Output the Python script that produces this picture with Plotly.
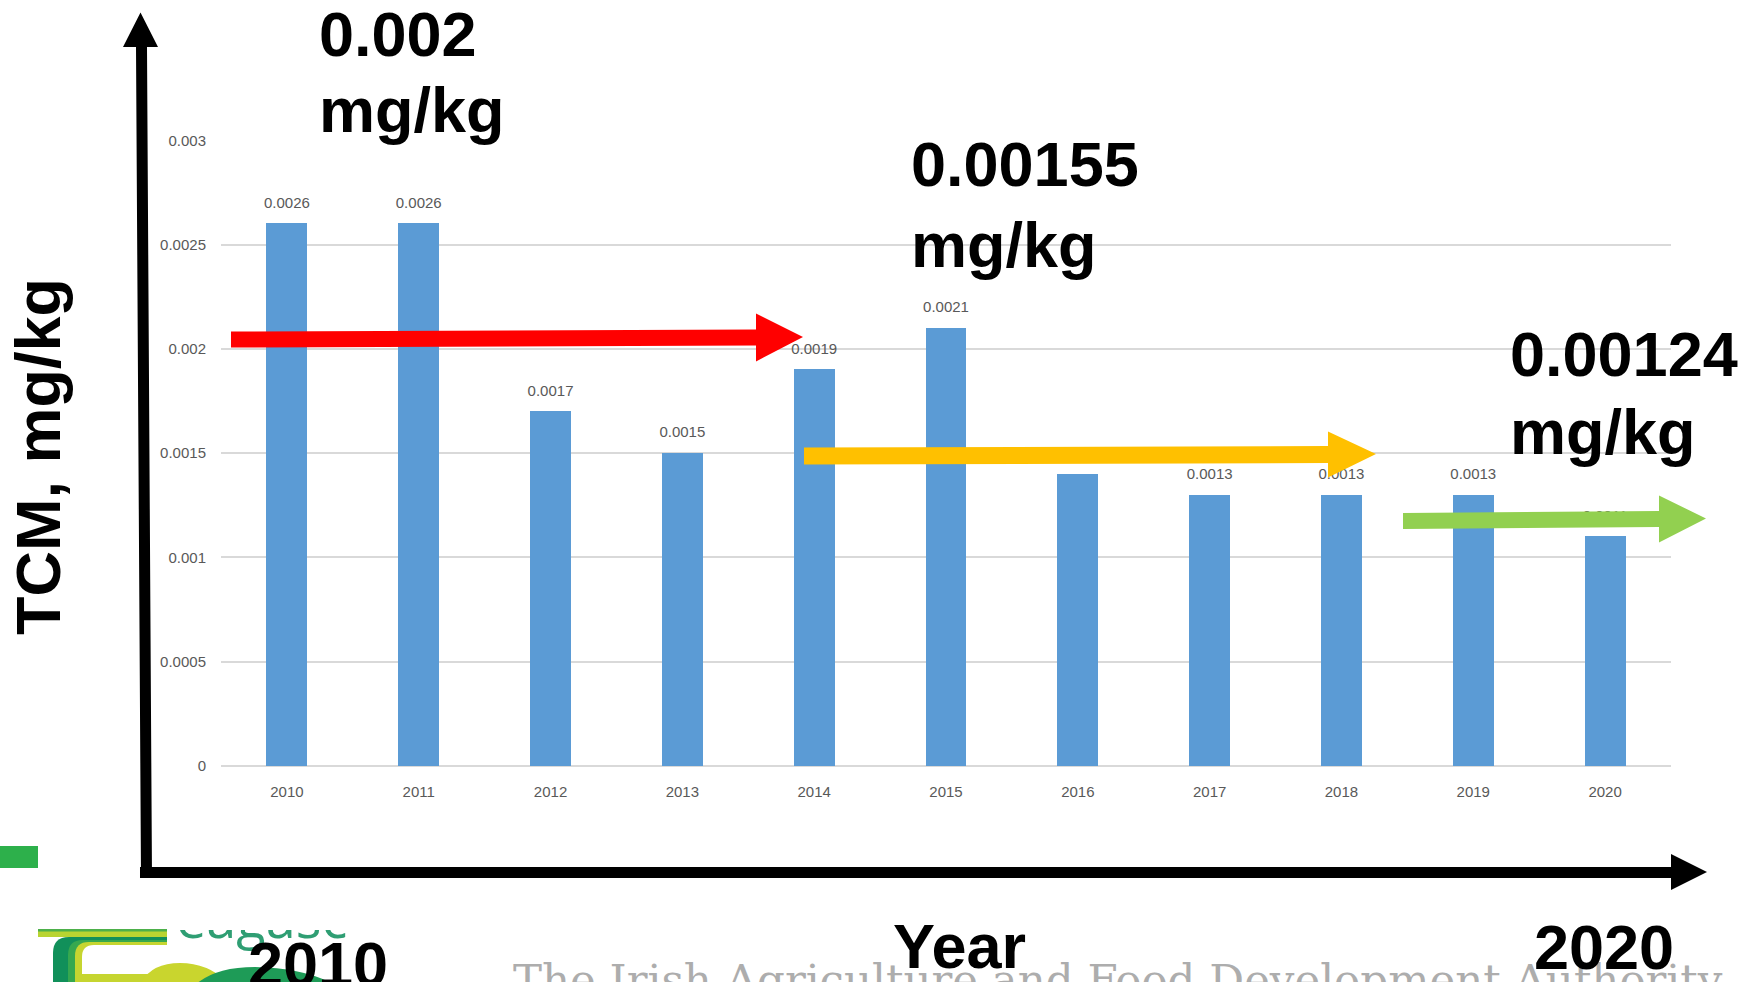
import plotly.graph_objects as go

# ---- data -------------------------------------------------------------
years = [2010, 2011, 2012, 2013, 2014, 2015, 2016, 2017, 2018, 2019, 2020]
tcm_mg_per_kg = [0.0026, 0.0026, 0.0017, 0.0015, 0.0019, 0.0021,
                 0.0014, 0.0013, 0.0013, 0.0013, 0.0011]
y_tick_values = [0, 0.0005, 0.001, 0.0015, 0.002, 0.0025, 0.003]
y_tick_labels = ["0", "0.0005", "0.001", "0.0015", "0.002", "0.0025", "0.003"]
period_levels = ["0.002", "0.00155", "0.00124"]
unit_label = "mg/kg"
axis_title_y = "TCM, mg/kg"
axis_title_x = "Year"
first_year_label, last_year_label = "2010", "2020"
footer_text = "The Irish Agriculture and Food Development Authority"
logo_word = "eagasc"

# ---- canvas helpers (pixel -> paper) ---------------------------------
W, H = 1761, 982


def fx(x):
    return x / W


def fy(y):
    return 1 - y / H


def path(cmds):
    """cmds: list of (letter, [(x, y), ...]) in pixels -> SVG path in paper units."""
    out = []
    for letter, pts in cmds:
        coords = " ".join(f"{fx(x):.6f},{fy(y):.6f}" for x, y in pts)
        out.append(f"{letter} {coords}")
    return " ".join(out) + " Z"


def polygon(points):
    return path([("M", [points[0]])] + [("L", [p]) for p in points[1:]])


def arrow(xs, ys, xb, yb, xt, yt, half_shaft, half_head):
    return polygon([(xs, ys - half_shaft), (xb, yb - half_shaft), (xb, yb - half_head),
                    (xt, yt), (xb, yb + half_head), (xb, yb + half_shaft),
                    (xs, ys + half_shaft)])


BOLD = "Liberation Sans, Arial, sans-serif"
SMALL = "Liberation Sans, Arial, sans-serif"
TICK_COLOR = "#595959"
GRID_COLOR = "#D9D9D9"
BAR_COLOR = "#5B9BD5"

fig = go.Figure()

# columns
fig.add_trace(go.Bar(
    x=years, y=tcm_mg_per_kg, width=0.31,
    marker=dict(color=BAR_COLOR, line=dict(width=0)),
    hoverinfo="x+y", showlegend=False,
))

# value labels above each column
fig.add_trace(go.Scatter(
    x=years, y=tcm_mg_per_kg, mode="markers+text",
    text=[f"{v:g}" for v in tcm_mg_per_kg],
    textposition="top center",
    textfont=dict(family=SMALL, size=15, color=TICK_COLOR),
    marker=dict(size=18, color="rgba(0,0,0,0)"),
    cliponaxis=False, showlegend=False, hoverinfo="skip",
))

# logo lettering, clipped by its own small subplot
fig.add_trace(go.Scatter(
    x=[176], y=[924], mode="text", text=[logo_word],
    textposition="middle right",
    textfont=dict(family="Open Sans, sans-serif", size=54, color="#2f9e73"),
    xaxis="x2", yaxis="y2", cliponaxis=True, showlegend=False, hoverinfo="skip",
))

shapes = []

# coloured trend arrows
for d, col in [
    (arrow(231, 339.5, 756, 337.5, 803, 337, 8, 24), "#FF0000"),
    (arrow(804, 456, 1328, 454.5, 1376, 454, 8.5, 23), "#FFC000"),
    (arrow(1403, 521, 1659, 519, 1706, 518.5, 8, 23.5), "#92D050"),
]:
    shapes.append(dict(type="path", path=d, xref="paper", yref="paper",
                       fillcolor=col, line=dict(width=0), layer="above"))

# bold black axis arrows
shapes.append(dict(type="path", xref="paper", yref="paper", layer="above",
                   fillcolor="black", line=dict(width=0),
                   path=polygon([(123, 47), (140.5, 12.5), (158, 47), (147, 47),
                                 (152, 878), (141, 878), (136, 47)])))
shapes.append(dict(type="path", xref="paper", yref="paper", layer="above",
                   fillcolor="black", line=dict(width=0),
                   path=polygon([(140, 867), (1671, 867), (1671, 854), (1707, 872),
                                 (1671, 890), (1671, 878), (140, 878)])))

# green bar on the left edge
shapes.append(dict(type="path", xref="paper", yref="paper", layer="above",
                   fillcolor="#2DB04B", line=dict(width=0),
                   path=polygon([(0, 846), (38, 846), (38, 868), (0, 868)])))

# white band hiding the upper half of the logo lettering
shapes.append(dict(type="path", xref="paper", yref="paper", layer="above",
                   fillcolor="white", line=dict(width=0),
                   path=polygon([(160, 884), (380, 884), (380, 930), (160, 930)])))

# logo artwork
logo_parts = [
    ("#11905A", path([("M", [(53, 985)]), ("L", [(53, 953)]), ("Q", [(53, 937), (69, 937)]),
                      ("L", [(167, 937)]), ("L", [(167, 985)])])),
    ("#36A84F", path([("M", [(68, 985)]), ("L", [(68, 955)]), ("Q", [(68, 940), (83, 940)]),
                      ("L", [(167, 940)]), ("L", [(167, 985)])])),
    ("#C6D530", path([("M", [(75, 985)]), ("L", [(75, 956)]), ("Q", [(75, 942), (89, 942)]),
                      ("L", [(167, 942)]), ("L", [(167, 985)])])),
    ("#FFFFFF", path([("M", [(82, 974)]), ("L", [(82, 957)]), ("Q", [(82, 945), (94, 945)]),
                      ("L", [(200, 945)]), ("L", [(200, 974)])])),
    ("#C6D530", polygon([(82, 974), (200, 974), (200, 985), (82, 985)])),
    ("#C9D52E", path([("M", [(140, 985)]), ("Q", [(150, 963), (180, 963)]),
                      ("Q", [(210, 963), (230, 985)])])),
    ("#1E9B57", path([("M", [(195, 985)]), ("Q", [(215, 967), (255, 967)]),
                      ("Q", [(305, 968), (335, 985)])])),
    ("#B9D431", polygon([(38, 930), (167, 930), (167, 937), (38, 937)])),
    ("#4DB04A", polygon([(38, 929), (167, 929), (167, 931.5), (38, 931.5)])),
]
for col, d in logo_parts:
    shapes.append(dict(type="path", path=d, xref="paper", yref="paper",
                       fillcolor=col, line=dict(width=0), layer="above"))

# ---- text -------------------------------------------------------------
def big(text, x, y_top, size=63):
    return dict(text=text, x=fx(x), y=fy(y_top), xref="paper", yref="paper",
                xanchor="left", yanchor="top", showarrow=False,
                font=dict(family=BOLD, size=size, color="black", weight=700))


annotations = [
    dict(text=footer_text, x=fx(511), y=fy(953), xref="paper", yref="paper",
         xanchor="left", yanchor="top", showarrow=False,
         font=dict(family="DejaVu Serif, serif", size=43.5, color="#ADADAD")),
    big(period_levels[0], 316.5, -3), big(unit_label, 316.5, 73),
    big(period_levels[1], 908.5, 127), big(unit_label, 908.5, 208),
    big(period_levels[2], 1507.5, 317), big(unit_label, 1507.5, 395),
    big(axis_title_x, 890.5, 909),
    big(last_year_label, 1531.5, 910),
    big(first_year_label, 246, 927),
    dict(text=axis_title_y, x=fx(38), y=fy(457), xref="paper", yref="paper",
         xanchor="center", yanchor="middle", textangle=-90, showarrow=False,
         font=dict(family=BOLD, size=63, color="black", weight=700)),
]

fig.update_layout(
    width=W, height=H,
    margin=dict(l=0, r=0, t=0, b=0, pad=0, autoexpand=False),
    paper_bgcolor="white", plot_bgcolor="white",
    showlegend=False,
    bargap=0,
    shapes=shapes,
    annotations=annotations,
    xaxis=dict(
        domain=[fx(221), fx(1671)], range=[2009.5, 2020.5],
        tickmode="array", tickvals=years, ticktext=[str(y) for y in years],
        showgrid=False, zeroline=False, showline=False, ticks="",
        tickfont=dict(family=SMALL, size=15, color=TICK_COLOR),
        ticklabelstandoff=15, automargin=False, fixedrange=True,
    ),
    yaxis=dict(
        domain=[fy(766), fy(140.4)], range=[0, 0.0030001],
        tickmode="array", tickvals=y_tick_values, ticktext=y_tick_labels,
        showgrid=True, gridcolor=GRID_COLOR, gridwidth=1.5,
        zeroline=True, zerolinecolor=GRID_COLOR, zerolinewidth=1.5,
        showline=False, ticks="",
        tickfont=dict(family=SMALL, size=15, color=TICK_COLOR),
        ticklabelstandoff=14, automargin=False, fixedrange=True,
    ),
    xaxis2=dict(domain=[fx(170), fx(360)], range=[170, 360], visible=False,
                anchor="y2", automargin=False, fixedrange=True),
    yaxis2=dict(domain=[0, fy(930)], range=[982, 930], visible=False,
                anchor="x2", automargin=False, fixedrange=True),
)

fig.write_html("out.html")
